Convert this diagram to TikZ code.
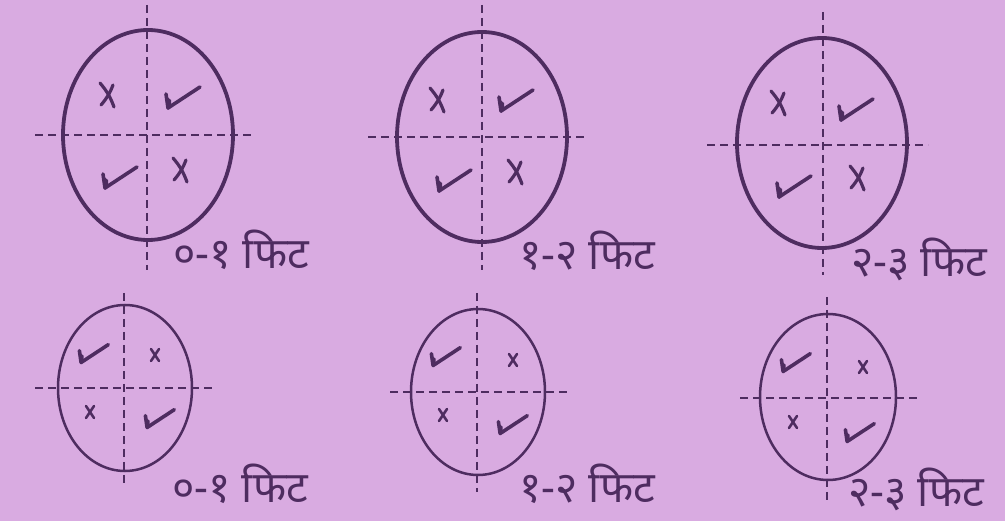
\documentclass[tikz,border=0pt]{standalone}
\usepackage{fontspec}
\newfontfamily\devfont[Script=Devanagari]{Noto Sans}
\definecolor{bgc}{RGB}{217,171,225}
\definecolor{ink}{RGB}{78,44,96}
\tikzset{
  x=1pt, y=-1pt,
  rim/.style={draw=ink, line width=3.8pt},
  rimsmall/.style={draw=ink, line width=2.5pt},
  axis/.style={draw=ink, line width=2.6pt, dash pattern=on 8pt off 5pt},
  pics/chk/.style={code={
    \draw[ink, line width=3.6pt, line join=round, line cap=round]
      (-16,-4) -- (-14,10) -- (18,-11);
    \fill[ink] (-16,-2) -- (-11,2) -- (-11,9) -- (-14,12) -- cycle;}},
  pics/crs/.style={code={
    \draw[ink, line width=3.2pt, line cap=round] (-7,-12) to[bend left=10] (7,12);
    \draw[ink, line width=3.2pt, line cap=round] (6,-10) to[bend left=10] (-6,10);}},
  pics/crssm/.style={code={
    \draw[ink, line width=2.6pt, line cap=round] (-4,-6) -- (4,6);
    \draw[ink, line width=2.6pt, line cap=round] (4,-6) -- (-4,6);}},
  lbl/.style={text=ink, font=\devfont\fontsize{43}{43}\selectfont, anchor=base west, inner sep=0pt},
}
\begin{document}
\begin{tikzpicture}
\fill[bgc] (0,0) rectangle (1005,521);
\useasboundingbox (0,0) rectangle (1005,521);

% ---------- top row ----------
% 1
\draw[rim] (148,135) ellipse [x radius=85, y radius=105];
\draw[axis] (147,5) -- (147,270);
\draw[axis] (35,135) -- (252,135);
\pic at (107,95) {crs};
\pic at (182,98) {chk};
\pic at (119,178) {chk};
\pic at (180,170) {crs};
\node[lbl] (t1) at (173,269) {०-१ फिट};

% 2
\draw[rim] (482,137) ellipse [x radius=85, y radius=105];
\draw[axis] (482,5) -- (482,270);
\draw[axis] (368,137) -- (585,137);
\pic at (437,100) {crs};
\pic at (515,101) {chk};
\pic at (453,181) {chk};
\pic at (515,172) {crs};
\node[lbl] (t2) at (519,270) {१-२ फिट};

% 3
\draw[rim] (822,143) ellipse [x radius=85, y radius=105];
\draw[axis] (823,12) -- (823,275);
\draw[axis] (707,145) -- (928,145);
\pic at (778,103) {crs};
\pic at (855,110) {chk};
\pic at (793,187) {chk};
\pic at (857,178) {crs};
\node[lbl] (t3) at (851,277) {२-३ फिट};

% ---------- bottom row ----------
% 4
\draw[rimsmall] (125,388) ellipse [x radius=67, y radius=83];
\draw[axis] (124,293) -- (124,487);
\draw[axis] (35,388) -- (212,388);
\pic[scale=0.85] at (93,354) {chk};
\pic at (155,355) {crssm};
\pic at (90,412) {crssm};
\pic[scale=0.85] at (159,419) {chk};
\node[lbl] (b1) at (172,502) {०-१ फिट};

% 5
\draw[rimsmall] (478,392) ellipse [x radius=67, y radius=83];
\draw[axis] (477,293) -- (477,492);
\draw[axis] (390,392) -- (568,392);
\pic[scale=0.85] at (445,357) {chk};
\pic at (513,360) {crssm};
\pic at (443,415) {crssm};
\pic[scale=0.85] at (512,425) {chk};
\node[lbl] (b2) at (519,503) {१-२ फिट};

% 6
\draw[rimsmall] (828,397) ellipse [x radius=68, y radius=83];
\draw[axis] (827,297) -- (827,500);
\draw[axis] (740,398) -- (917,398);
\pic[scale=0.85] at (795,363) {chk};
\pic at (863,367) {crssm};
\pic at (793,422) {crssm};
\pic[scale=0.85] at (859,433) {chk};
\node[lbl] (b3) at (848,506) {२-३ फिट};
\end{tikzpicture}
\end{document}
